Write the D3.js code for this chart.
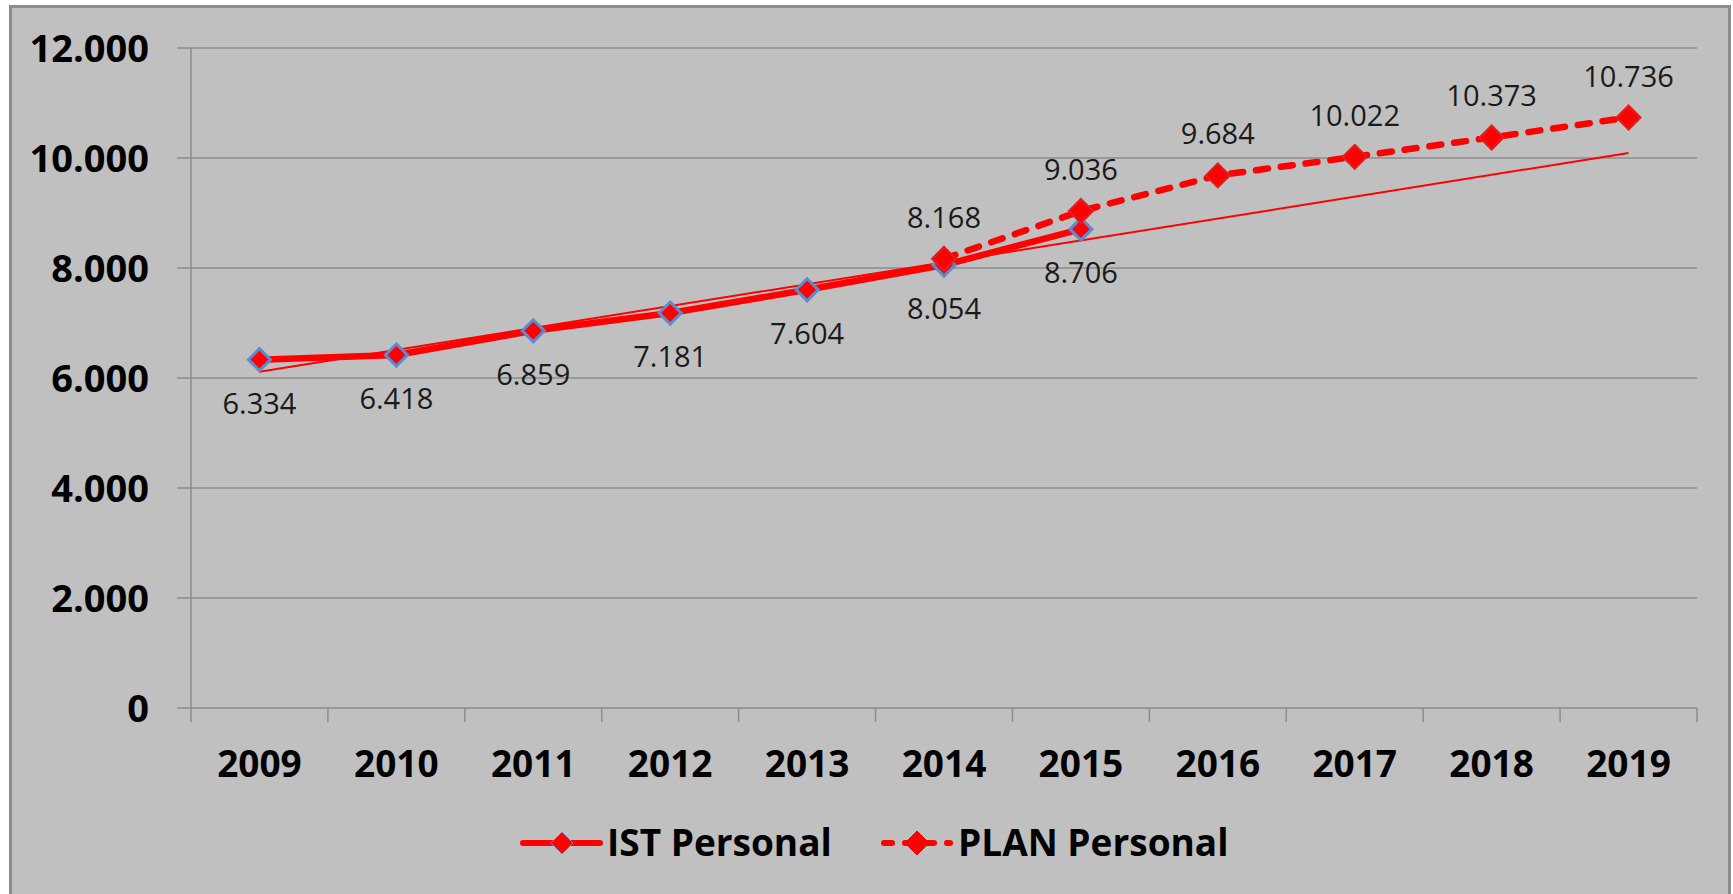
<!DOCTYPE html>
<html><head><meta charset="utf-8">
<script src="https://cdn.jsdelivr.net/npm/d3@7"></script>
<style>body{margin:0;background:#fff;overflow:hidden}</style>
</head><body>
<svg id="c" width="1733" height="894"></svg>
<script>
const years = ["2009","2010","2011","2012","2013","2014","2015","2016","2017","2018","2019"];
const istYears = ["2009","2010","2011","2012","2013","2014","2015"];
const istValues = [6334,6418,6859,7181,7604,8054,8706];
const planYears = ["2014","2015","2016","2017","2018","2019"];
const planValues = [8168,9036,9684,10022,10373,10736];
const yTicks = [0,2000,4000,6000,8000,10000,12000];
const seriesNames = ["IST Personal","PLAN Personal"];

const loc = d3.formatLocale({decimal:",", thousands:".", grouping:[3], currency:["","€"]});
const fmt = loc.format(",d");
const FONT = "'Open Sans', sans-serif";

const svg = d3.select("#c");
svg.append("rect").attr("x",10.5).attr("y",6.5).attr("width",1719).attr("height",900)
  .attr("fill","#c0c0c0").attr("stroke","#8c8c8c").attr("stroke-width",3);

const x = d3.scaleBand().domain(years).range([191,1697]);
const y = d3.scaleLinear().domain([0,12000]).range([708,48]);
const cx = d => x(d) + x.bandwidth()/2;

svg.append("g").selectAll("line").data(yTicks).join("line")
  .attr("x1",177).attr("x2",1697).attr("y1",d=>y(d)).attr("y2",d=>y(d))
  .attr("stroke","#8c8c8c").attr("stroke-width",1.5);
svg.append("line").attr("x1",191).attr("x2",191).attr("y1",y(12000)).attr("y2",y(0))
  .attr("stroke","#8c8c8c").attr("stroke-width",1.5);
const edges = years.map(d=>x(d)).concat([x.range()[1]]);
svg.append("g").selectAll("line").data(edges).join("line")
  .attr("x1",d=>d).attr("x2",d=>d).attr("y1",y(0)).attr("y2",y(0)+14)
  .attr("stroke","#8c8c8c").attr("stroke-width",1.5);

svg.append("g").selectAll("text").data(yTicks).join("text")
  .attr("x",149).attr("y",d=>y(d)).attr("dy","0.36em").attr("text-anchor","end")
  .attr("font-family",FONT).attr("font-weight","bold").attr("font-size",38).attr("fill","#000")
  .text(d=>fmt(d));
svg.append("g").selectAll("text").data(years).join("text")
  .attr("x",d=>cx(d)).attr("y",777).attr("text-anchor","middle")
  .attr("font-family",FONT).attr("font-weight","bold").attr("font-size",37).attr("fill","#000")
  .text(d=>d);

// linear trendline of IST series, forecast to the last year
const xs = istValues.map((v,i)=>i+1);
const mx = d3.mean(xs), my = d3.mean(istValues);
const slope = d3.sum(xs.map((xi,i)=>(xi-mx)*(istValues[i]-my))) / d3.sum(xs.map(xi=>(xi-mx)**2));
const icpt = my - slope*mx;
const trendPts = [1, years.length].map(k=>[cx(years[k-1]), y(icpt+slope*k)]);
svg.append("path").attr("d",d3.line()(trendPts)).attr("fill","none")
  .attr("stroke","#ff0000").attr("stroke-width",2);

const line = d3.line();
const istPts = istYears.map((d,i)=>[cx(d), y(istValues[i])]);
const planPts = planYears.map((d,i)=>[cx(d), y(planValues[i])]);

svg.append("path").attr("d",line(istPts)).attr("fill","none").attr("stroke","#ff0000")
  .attr("stroke-width",6.5).attr("stroke-linejoin","round").attr("stroke-linecap","round");
svg.append("path").attr("d",line(planPts)).attr("fill","none").attr("stroke","#ff0000")
  .attr("stroke-width",6.5).attr("stroke-dasharray","12,13").attr("stroke-linecap","round");

const diamond = (s) => `M0,${-s}L${s},0L0,${s}L${-s},0Z`;
svg.append("g").selectAll("path").data(istPts).join("path")
  .attr("transform",d=>`translate(${d[0]},${d[1]})`).attr("d",diamond(11))
  .attr("fill","#ff0000").attr("stroke","#5b8bd0").attr("stroke-width",3).attr("stroke-linejoin","miter");
svg.append("g").selectAll("path").data(planPts).join("path")
  .attr("transform",d=>`translate(${d[0]},${d[1]})`).attr("d",diamond(12))
  .attr("fill","#ff0000").attr("stroke","#e02020").attr("stroke-width",2);

svg.append("g").selectAll("text").data(istValues).join("text")
  .attr("x",(d,i)=>cx(istYears[i])).attr("y",d=>y(d)+54).attr("text-anchor","middle")
  .attr("font-family",FONT).attr("font-size",29).attr("fill","#1a1a1a").text(d=>fmt(d));
svg.append("g").selectAll("text").data(planValues).join("text")
  .attr("x",(d,i)=>cx(planYears[i])).attr("y",d=>y(d)-31).attr("text-anchor","middle")
  .attr("font-family",FONT).attr("font-size",29).attr("fill","#1a1a1a").text(d=>fmt(d));

// legend
const lg = svg.append("g");
const ly = 843;
lg.append("line").attr("x1",523).attr("x2",600).attr("y1",ly).attr("y2",ly)
  .attr("stroke","#ff0000").attr("stroke-width",6).attr("stroke-linecap","round");
lg.append("path").attr("transform",`translate(562,${ly})`).attr("d",diamond(11))
  .attr("fill","#ff0000").attr("stroke","#7f7fc0").attr("stroke-width",1);
lg.append("text").attr("x",607).attr("y",ly).attr("dy","0.36em")
  .attr("font-family",FONT).attr("font-weight","bold").attr("font-size",37).attr("fill","#000")
  .text(seriesNames[0]);
lg.append("line").attr("x1",884).attr("x2",950).attr("y1",ly).attr("y2",ly)
  .attr("stroke","#ff0000").attr("stroke-width",6).attr("stroke-linecap","round")
  .attr("stroke-dasharray","8,13");
lg.append("path").attr("transform",`translate(917,${ly})`).attr("d",diamond(12))
  .attr("fill","#ff0000").attr("stroke","#ff0000").attr("stroke-width",1);
lg.append("text").attr("x",958).attr("y",ly).attr("dy","0.36em")
  .attr("font-family",FONT).attr("font-weight","bold").attr("font-size",37).attr("fill","#000")
  .text(seriesNames[1]);
</script>
</body></html>
